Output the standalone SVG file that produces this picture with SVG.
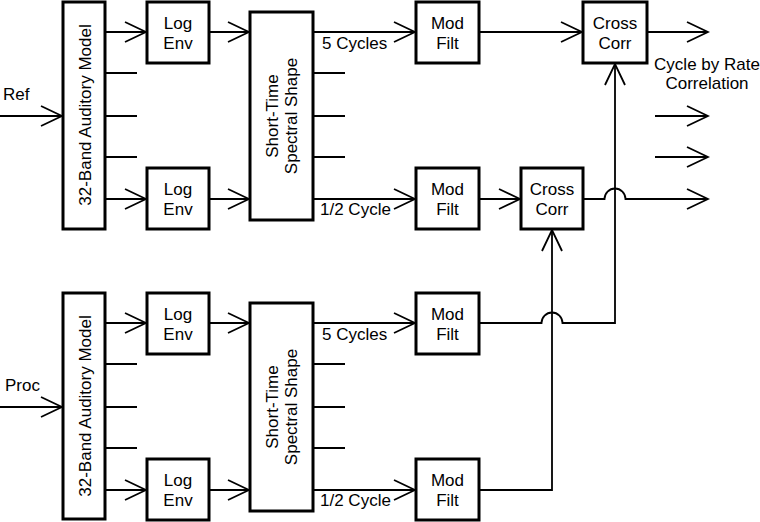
<svg xmlns="http://www.w3.org/2000/svg" width="760" height="522" viewBox="0 0 760 522">
<style>
.box{fill:#fff;stroke:#000;stroke-width:3}
.ln{fill:none;stroke:#000;stroke-width:1.8}
.a{marker-end:url(#arr)}
text{font-family:"Liberation Sans",Arial,sans-serif;font-size:17px;fill:#000}
.c{text-anchor:middle}
</style>
<defs>
<marker id="arr" markerUnits="userSpaceOnUse" viewBox="-23 -12 25 24" markerWidth="25" markerHeight="24" refX="0" refY="0" orient="auto">
<path d="M-21,-10 L0,0 L-21,10" fill="none" stroke="#000" stroke-width="1.8"/>
</marker>
</defs>
<rect width="760" height="522" fill="#fff"/>
<g id="connectors">
<path class="ln a" d="M0,116 H62"/>
<path class="ln a" d="M105,32 H146"/>
<path class="ln" d="M105,73 H137 M105,116 H137 M105,157 H137"/>
<path class="ln a" d="M105,199 H146"/>
<path class="ln a" d="M209,32 H249"/>
<path class="ln a" d="M209,199 H249"/>
<path class="ln a" d="M313,32 H415"/>
<path class="ln" d="M313,73 H345 M313,116 H345 M313,157 H345"/>
<path class="ln a" d="M313,199 H415"/>
<path class="ln a" d="M479,32 H582"/>
<path class="ln a" d="M647,32 H708"/>
<path class="ln a" d="M655,116 H708"/>
<path class="ln a" d="M655,157 H708"/>
<path class="ln a" d="M479,199 H520"/>
<path class="ln a" d="M583,199 H604.5 A10.5,10.5 0 0 1 625.5,199 H708"/>
<path class="ln a" d="M0,407 H62"/>
<path class="ln a" d="M105,323 H146"/>
<path class="ln" d="M105,364 H137 M105,407 H137 M105,448 H137"/>
<path class="ln a" d="M105,490 H146"/>
<path class="ln a" d="M209,323 H249"/>
<path class="ln a" d="M209,490 H249"/>
<path class="ln a" d="M313,323 H415"/>
<path class="ln" d="M313,364 H345 M313,407 H345 M313,448 H345"/>
<path class="ln a" d="M313,490 H415"/>
<path class="ln a" d="M479,323 H541.5 A10.5,10.5 0 0 1 562.5,323 H615 V64"/>
<path class="ln a" d="M479,490 H552 V230"/>
</g>
<g id="labels">
<text x="3" y="100">Ref</text>
<text x="5" y="391">Proc</text>
<text x="322" y="49">5 Cycles</text>
<text x="320" y="215">1/2 Cycle</text>
<text x="322" y="340">5 Cycles</text>
<text x="320" y="506">1/2 Cycle</text>
<text x="707" y="70" class="c">Cycle by Rate</text>
<text x="707" y="89" class="c">Correlation</text>
</g>
<g id="aud1"><rect class="box" x="63" y="2" width="42" height="227"/><text class="c" transform="translate(91,115) rotate(-90)">32-Band Auditory Model</text></g>
<g id="log1a"><rect class="box" x="147" y="2" width="62" height="61"/><text class="c" x="178" y="29">Log</text><text class="c" x="178" y="49">Env</text></g>
<g id="log1b"><rect class="box" x="147" y="168" width="62" height="61"/><text class="c" x="178" y="195">Log</text><text class="c" x="178" y="215">Env</text></g>
<g id="sts1"><rect class="box" x="250" y="12" width="63" height="208"/><text class="c" transform="translate(278,116) rotate(-90)">Short-Time</text><text class="c" transform="translate(297,116) rotate(-90)">Spectral Shape</text></g>
<g id="mod1a"><rect class="box" x="416" y="2" width="63" height="61"/><text class="c" x="447.5" y="29">Mod</text><text class="c" x="447.5" y="49">Filt</text></g>
<g id="mod1b"><rect class="box" x="416" y="168" width="63" height="61"/><text class="c" x="447.5" y="195">Mod</text><text class="c" x="447.5" y="215">Filt</text></g>
<g id="cc1"><rect class="box" x="583" y="2" width="64" height="61"/><text class="c" x="615" y="29">Cross</text><text class="c" x="615" y="49">Corr</text></g>
<g id="cc2"><rect class="box" x="521" y="168" width="62" height="61"/><text class="c" x="552" y="195">Cross</text><text class="c" x="552" y="215">Corr</text></g>
<g id="aud2"><rect class="box" x="63" y="293" width="42" height="226"/><text class="c" transform="translate(91,406) rotate(-90)">32-Band Auditory Model</text></g>
<g id="log2a"><rect class="box" x="147" y="293" width="62" height="61"/><text class="c" x="178" y="320">Log</text><text class="c" x="178" y="340">Env</text></g>
<g id="log2b"><rect class="box" x="147" y="459" width="62" height="61"/><text class="c" x="178" y="486">Log</text><text class="c" x="178" y="506">Env</text></g>
<g id="sts2"><rect class="box" x="250" y="303" width="63" height="208"/><text class="c" transform="translate(278,407) rotate(-90)">Short-Time</text><text class="c" transform="translate(297,407) rotate(-90)">Spectral Shape</text></g>
<g id="mod2a"><rect class="box" x="416" y="293" width="63" height="61"/><text class="c" x="447.5" y="320">Mod</text><text class="c" x="447.5" y="340">Filt</text></g>
<g id="mod2b"><rect class="box" x="416" y="459" width="63" height="61"/><text class="c" x="447.5" y="486">Mod</text><text class="c" x="447.5" y="506">Filt</text></g>
</svg>
